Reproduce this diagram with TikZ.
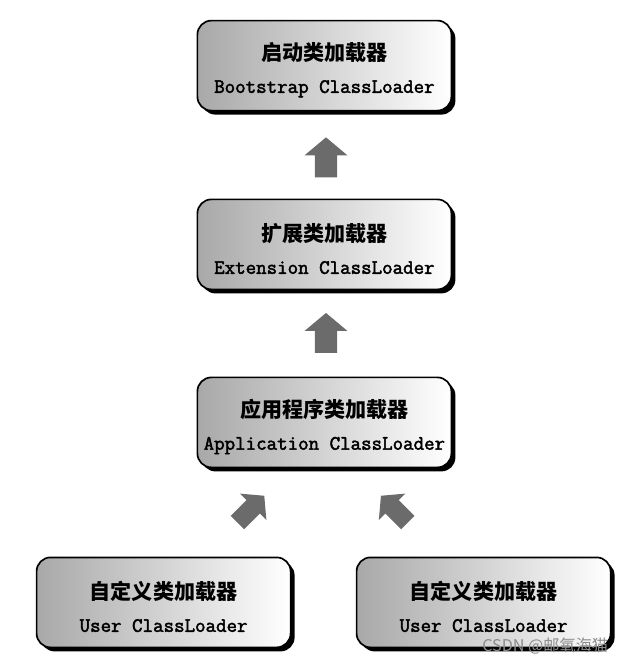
\documentclass[tikz,border=0pt]{standalone}
\usepackage{fontspec}
\setmonofont{Latin Modern Mono}[AutoFakeBold=2.2]
\newfontfamily\cjk{Noto Sans CJK SC}
\usetikzlibrary{shapes,shadows,calc}
\newcommand\zhline[1]{{\cjk\bfseries\fontsize{15}{22}\selectfont\rule{0pt}{19pt}#1}}
\newcommand\enline[1]{{\ttfamily\bfseries\fontsize{14.5}{22}\selectfont #1}}

\begin{document}
\begin{tikzpicture}[
  loader/.style={rectangle,draw,line width=1.2pt,rounded corners=0.35cm,
    left color=black!34,middle color=black!12,right color=white,
    minimum width=6.35cm,minimum height=2.25cm,align=center,
    drop shadow={shadow xshift=0.1cm,shadow yshift=-0.1cm,fill=black,opacity=1}},
  blockarrow/.style={single arrow,fill=black!58,inner sep=0.27cm,
    minimum height=1cm,single arrow head extend=0.26cm,single arrow tip angle=100},
  diagarrow/.style={blockarrow,inner sep=0.23cm,minimum height=0.95cm,
    single arrow head extend=0.23cm}
]
\useasboundingbox (0,0) rectangle (15.775,-16.6);

% Class loaders
\node[loader] (boot) at (8.11,-1.64) {\zhline{启动类加载器}\\[11pt]\enline{Bootstrap ClassLoader}};
\node[loader] (ext) at (8.11,-6.11) {\zhline{扩展类加载器}\\[11pt]\enline{Extension ClassLoader}};
\node[loader] (app) at (8.11,-10.56) {\zhline{应用程序类加载器}\\[11pt]\enline{Application ClassLoader}};
\node[loader] (user1) at (4.09,-15.06) {\zhline{自定义类加载器}\\[11pt]\enline{User ClassLoader}};
\node[loader] (user2) at (12.09,-15.06) {\zhline{自定义类加载器}\\[11pt]\enline{User ClassLoader}};

% Delegation arrows
\node[blockarrow,rotate=90] (up1) at (8.15,-4.05) {};
\node[blockarrow,rotate=90] (up2) at (8.15,-8.44) {};
\node[diagarrow,rotate=45] (up3) at (6.2,-12.8) {};
\node[diagarrow,rotate=135] (up4) at (9.93,-12.8) {};

\node[text=black!45,font=\cjk\fontsize{11.5}{11.5}\selectfont] (mark) at (13.63,-16.14) {CSDN @邮氧海猫};

\end{tikzpicture}
\end{document}
